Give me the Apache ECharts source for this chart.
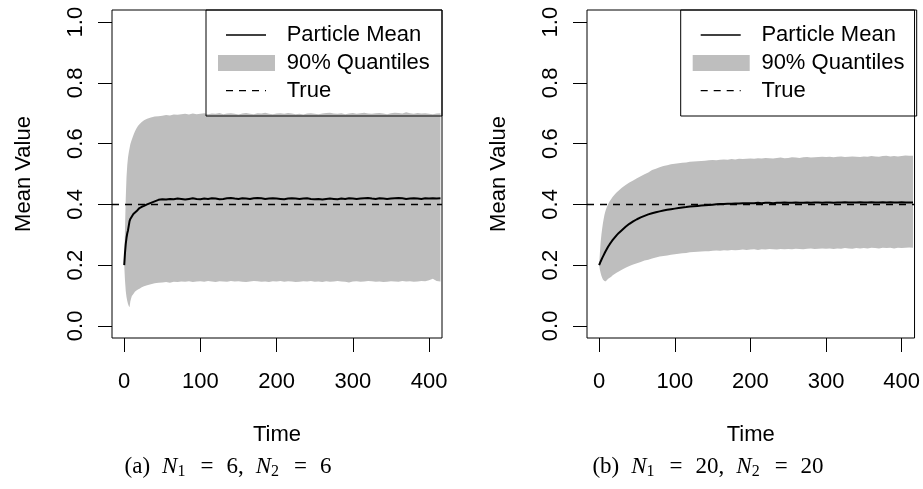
<!DOCTYPE html>
<html>
<head>
<meta charset="utf-8">
<script src="https://cdn.jsdelivr.net/npm/echarts@6/dist/echarts.min.js"></script>
<style>html,body{margin:0;padding:0;background:#fff;}#c{width:923px;height:489px;}</style>
</head>
<body>
<div id="c"></div>
<script>
// ---- data ----
const times = [0,1,2,3,4,5,6,7,8,9,10,12,14,16,18,20,23,26,30,35,40,45,
  50,55,60,65,70,75,80,85,90,95,100,105,110,115,120,125,130,135,140,145,
  150,155,160,165,170,175,180,185,190,195,200,205,210,215,220,225,230,235,240,245,
  250,255,260,265,270,275,280,285,290,295,300,305,310,315,320,325,330,335,340,345,
  350,355,360,365,370,375,380,385,390,395,400,405,410,415];

const upperA = [0.2,0.32,0.42,0.49,0.53,0.555,0.572,0.585,0.598,0.606,0.614,0.628,0.64,0.65,0.658,0.664,0.671,0.677,0.682,0.686,0.689,0.69,
  0.692,0.694,0.693,0.696,0.695,0.697,0.698,0.696,0.699,0.697,
  0.698,0.700,0.697,0.699,0.698,0.701,0.697,0.699,0.700,0.698,
  0.696,0.699,0.701,0.698,0.697,0.700,0.699,0.702,0.698,0.697,
  0.699,0.700,0.698,0.701,0.699,0.697,0.698,0.696,0.699,0.700,
  0.698,0.697,0.699,0.701,0.702,0.699,0.698,0.700,0.697,0.699,
  0.701,0.698,0.700,0.702,0.699,0.698,0.700,0.701,0.699,0.697,
  0.700,0.702,0.701,0.699,0.703,0.700,0.698,0.701,0.699,0.700,
  0.698,0.697,0.699,0.700];
const lowerA = [0.2,0.15,0.115,0.095,0.082,0.072,0.065,0.061,0.08,0.09,0.098,0.105,0.112,0.116,0.12,0.122,0.127,0.13,0.134,0.137,0.14,0.142,
  0.143,0.144,0.142,0.145,0.144,0.146,0.145,0.147,0.144,0.146,
  0.147,0.145,0.148,0.146,0.144,0.147,0.146,0.145,0.148,0.146,
  0.147,0.145,0.144,0.146,0.148,0.147,0.145,0.146,0.144,0.147,
  0.146,0.148,0.145,0.147,0.146,0.144,0.145,0.147,0.146,0.148,
  0.145,0.146,0.144,0.147,0.145,0.146,0.148,0.146,0.145,0.143,
  0.146,0.147,0.145,0.146,0.148,0.147,0.145,0.146,0.144,0.145,
  0.147,0.146,0.145,0.148,0.146,0.147,0.145,0.146,0.148,0.147,
  0.150,0.155,0.148,0.146];
const meanA = [0.2,0.24,0.27,0.29,0.305,0.315,0.33,0.345,0.352,0.356,0.36,0.368,0.373,0.377,0.383,0.388,0.392,0.395,0.4,0.405,0.41,0.415,
  0.417,0.416,0.418,0.417,0.419,0.418,0.416,0.418,0.420,0.418,
  0.417,0.419,0.418,0.420,0.419,0.417,0.418,0.420,0.421,0.419,
  0.418,0.420,0.419,0.418,0.420,0.421,0.420,0.418,0.419,0.420,
  0.419,0.418,0.417,0.419,0.420,0.419,0.418,0.419,0.420,0.418,
  0.417,0.418,0.416,0.418,0.419,0.418,0.417,0.419,0.418,0.420,
  0.419,0.418,0.419,0.420,0.421,0.419,0.418,0.420,0.419,0.418,
  0.419,0.420,0.421,0.420,0.418,0.419,0.420,0.419,0.418,0.420,
  0.419,0.420,0.419,0.420];

const upperB = [0.2,0.24,0.275,0.30,0.32,0.338,0.352,0.365,0.375,0.383,0.39,0.401,0.41,0.418,0.425,0.431,0.439,0.446,0.455,0.464,0.472,0.479,
  0.486,0.493,0.499,0.505,0.513,0.517,0.522,0.526,0.529,0.532,
  0.534,0.535,0.537,0.538,0.540,0.541,0.542,0.543,0.544,0.545,
  0.546,0.545,0.547,0.548,0.547,0.549,0.548,0.550,0.549,0.550,
  0.551,0.550,0.552,0.551,0.553,0.552,0.551,0.553,0.554,0.552,
  0.553,0.555,0.554,0.553,0.555,0.556,0.554,0.555,0.556,0.557,
  0.556,0.557,0.555,0.557,0.558,0.556,0.557,0.558,0.557,0.556,
  0.558,0.557,0.559,0.558,0.557,0.559,0.560,0.558,0.559,0.558,
  0.559,0.561,0.560,0.560];
const lowerB = [0.2,0.185,0.174,0.165,0.158,0.153,0.150,0.148,0.147,0.147,0.150,0.155,0.158,0.162,0.167,0.170,0.175,0.179,0.185,0.191,0.197,0.202,
  0.206,0.210,0.215,0.218,0.222,0.225,0.228,0.230,0.232,0.234,
  0.236,0.237,0.239,0.240,0.242,0.243,0.244,0.245,0.246,0.246,
  0.247,0.248,0.247,0.249,0.248,0.250,0.249,0.250,0.251,0.250,
  0.251,0.252,0.250,0.252,0.251,0.253,0.252,0.251,0.253,0.252,
  0.253,0.252,0.254,0.253,0.252,0.254,0.255,0.253,0.254,0.255,
  0.254,0.255,0.253,0.255,0.254,0.256,0.255,0.254,0.256,0.255,
  0.256,0.255,0.257,0.256,0.255,0.257,0.256,0.257,0.255,0.257,
  0.256,0.257,0.258,0.257];
const meanB = [0.2,0.206,0.212,0.218,0.223,0.228,0.233,0.238,0.243,0.248,0.252,0.261,0.269,0.276,0.283,0.289,0.298,0.306,0.315,0.326,0.336,0.344,
  0.351,0.357,0.362,0.367,0.371,0.374,0.377,0.380,0.382,0.384,
  0.386,0.388,0.390,0.391,0.393,0.394,0.395,0.396,0.397,0.398,
  0.399,0.400,0.401,0.401,0.402,0.402,0.403,0.403,0.404,0.404,
  0.404,0.404,0.405,0.404,0.405,0.405,0.404,0.405,0.405,0.406,
  0.405,0.405,0.406,0.405,0.405,0.406,0.405,0.406,0.406,0.405,
  0.406,0.406,0.405,0.406,0.406,0.407,0.406,0.406,0.406,0.407,
  0.406,0.406,0.407,0.406,0.406,0.407,0.406,0.407,0.406,0.406,
  0.407,0.406,0.406,0.406];

const trueValue = [0.4, 0.4];
const xTicks = [0, 100, 200, 300, 400];
const yTicks = [0, 0.2, 0.4, 0.6, 0.8, 1.0];
const legendLabels = ['Particle Mean', '90% Quantiles', 'True'];
const xTitle = 'Time';
const yTitle = 'Mean Value';
const captions = [
  '{n|(a)}{i|N}{s|1}{e|=}{n|6,}{i|N}{s|2}{e|=}{n|6}',
  '{n|(b)}{i|N}{s|1}{e|=}{n|20,}{i|N}{s|2}{e|=}{n|20}'
];

// ---- chart ----
const chart = echarts.init(document.getElementById('c'), null, {renderer: 'canvas'});
const FONT = 'Liberation Sans, Arial, sans-serif';
const SERIF = 'Liberation Serif, Times New Roman, serif';
const XMIN = -16.04, XMAX = 417.04, YMIN = -0.04, YMAX = 1.04;

function pairs(vals) {
  const n = Math.min(times.length, vals.length);
  const out = [];
  for (let i = 0; i < n; i++) out.push([times[i], vals[i]]);
  return out;
}

const gridPos = [{left: 112, top: 10, width: 330, height: 328}, {left: 587, top: 10, width: 330, height: 328}];

function xAxisFor(i) {
  return {
    type: 'value', gridIndex: i, min: XMIN, max: XMAX,
    name: xTitle, nameLocation: 'middle', nameGap: 86,
    nameTextStyle: {color: '#000', fontFamily: FONT, fontSize: 22},
    axisLine: {show: false, onZero: false},
    axisTick: {show: true, inside: false, length: 14, customValues: xTicks, lineStyle: {color: '#000', width: 1}},
    axisLabel: {show: true, customValues: xTicks, margin: 33, color: '#000', fontFamily: FONT, fontSize: 22},
    splitLine: {show: false}
  };
}
function yAxisFor(i) {
  return {
    type: 'value', gridIndex: i, min: YMIN, max: YMAX,
    name: yTitle, nameLocation: 'middle', nameGap: 77, nameRotate: 90,
    nameTextStyle: {color: '#000', fontFamily: FONT, fontSize: 22},
    axisLine: {show: false, onZero: false},
    axisTick: {show: true, inside: false, length: 14, customValues: yTicks, lineStyle: {color: '#000', width: 1}},
    axisLabel: {show: true, customValues: yTicks, rotate: 90, margin: 25, color: '#000', fontFamily: FONT, fontSize: 22,
      formatter: v => Number(v).toFixed(1)},
    splitLine: {show: false}
  };
}

function panelSeries(i, up, lo, mean) {
  return [
    {type: 'custom', xAxisIndex: i, yAxisIndex: i, data: [[0, 0]], silent: true, z: 1, clip: true,
      renderItem: function (params, api) {
        const n = Math.min(times.length, up.length, lo.length);
        const pts = [];
        for (let k = 0; k < n; k++) pts.push(api.coord([times[k], up[k]]));
        for (let k = n - 1; k >= 0; k--) pts.push(api.coord([times[k], lo[k]]));
        return {type: 'polygon', shape: {points: pts}, style: {fill: '#bebebe', stroke: null}};
      }},
    {type: 'line', xAxisIndex: i, yAxisIndex: i, data: pairs(mean), symbol: 'none', smooth: false,
      lineStyle: {color: '#000', width: 2}, silent: true, z: 3,
      markLine: {silent: true, symbol: ['none', 'none'], label: {show: false},
        lineStyle: {color: '#000', width: 1.3, type: [7, 6]},
        data: [{yAxis: trueValue[i]}]}}
  ];
}

function legendGraphic(ox) {
  const els = [];
  els.push({type: 'rect', shape: {x: ox, y: 10, width: 236, height: 106},
    style: {fill: null, stroke: '#000', lineWidth: 1}, z: 100});
  els.push({type: 'line', shape: {x1: ox + 20, y1: 35, x2: ox + 60, y2: 35}, style: {stroke: '#000', lineWidth: 1.5}, z: 100});
  els.push({type: 'rect', shape: {x: ox + 12, y: 55, width: 57, height: 16}, style: {fill: '#bebebe'}, z: 100});
  els.push({type: 'line', shape: {x1: ox + 20, y1: 90.7, x2: ox + 60, y2: 90.7}, style: {stroke: '#000', lineWidth: 1.3, lineDash: [7, 6]}, z: 100});
  const ys = [35, 63, 90.7];
  legendLabels.forEach((t, k) => {
    els.push({type: 'text', x: ox + 80.7, y: ys[k], style: {text: t, fill: '#000', font: '22px ' + FONT, textVerticalAlign: 'middle', textAlign: 'left'}, z: 100});
  });
  return els;
}

const rich = {
  n: {fontFamily: SERIF, fontSize: 23, color: '#000'},
  i: {fontFamily: SERIF, fontSize: 23, fontStyle: 'italic', color: '#000', padding: [0, 0, 0, 12]},
  s: {fontFamily: SERIF, fontSize: 16, color: '#000', padding: [10, 2, 0, 0]},
  e: {fontFamily: SERIF, fontSize: 23, color: '#000', padding: [0, 13, 0, 13]}
};

const option = {
  backgroundColor: '#fff',
  animation: false,
  grid: gridPos.map(g => Object.assign({show: true, borderColor: '#000', borderWidth: 1, backgroundColor: 'transparent', containLabel: false}, g)),
  xAxis: [xAxisFor(0), xAxisFor(1)],
  yAxis: [yAxisFor(0), yAxisFor(1)],
  series: [].concat(panelSeries(0, upperA, lowerA, meanA), panelSeries(1, upperB, lowerB, meanB)),
  graphic: [].concat(legendGraphic(206), legendGraphic(680.7), [
    {type: 'text', x: 228, y: 467, style: {text: captions[0], rich: rich, textAlign: 'center', textVerticalAlign: 'middle'}, z: 100},
    {type: 'text', x: 708, y: 467, style: {text: captions[1], rich: rich, textAlign: 'center', textVerticalAlign: 'middle'}, z: 100}
  ])
};
chart.setOption(option);
</script>
</body>
</html>
